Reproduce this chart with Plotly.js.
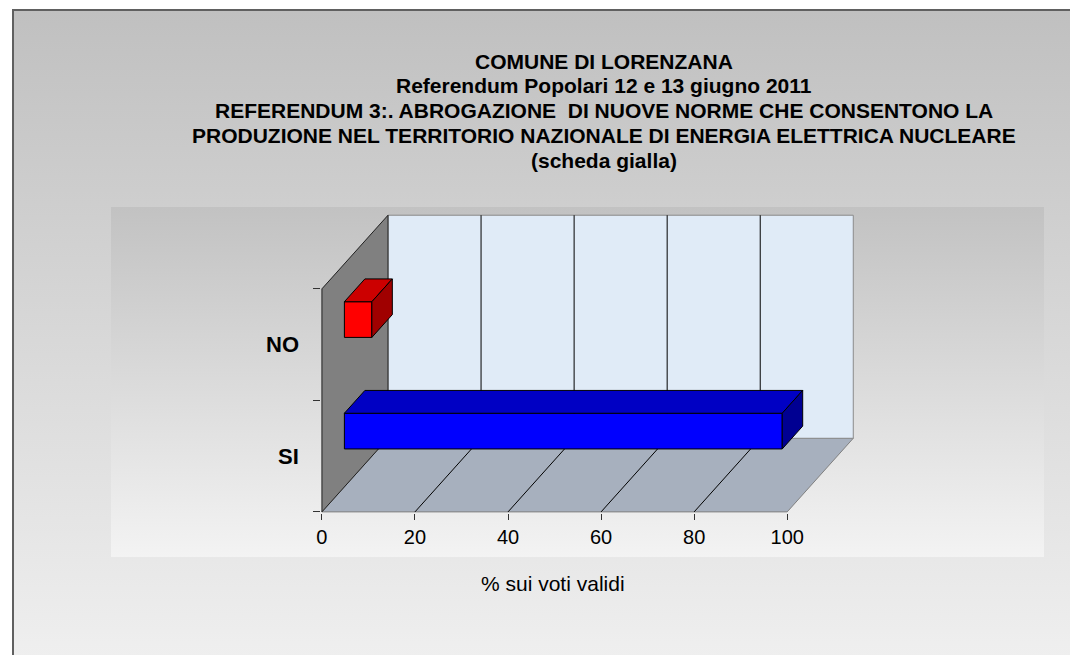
<!DOCTYPE html>
<html>
<head>
<meta charset="utf-8">
<script src="https://cdn.plot.ly/plotly-3.0.1.min.js"></script>
<style>
  html, body { margin:0; padding:0; background:#ffffff; width:1070px; height:655px; overflow:hidden; }
  #frame { position:absolute; left:12px; top:9px; width:1070px; height:660px;
           border-left:2px solid #606060; border-top:2px solid #606060;
           background:linear-gradient(to bottom, #c0c0c0 0%, #f0f0f0 100%); }
  #inner { position:absolute; left:111px; top:207px; width:933px; height:350px;
           background:linear-gradient(to bottom, #c2c2c2 0%, #f3f3f3 100%); }
  #chart { position:absolute; left:0; top:0; width:1070px; height:655px; }
</style>
</head>
<body>
<div id="frame"></div>
<div id="inner"></div>
<div id="chart"></div>
<script>
// ---- data ----
const categories = ['SI', 'NO'];
const values = [94.1, 5.9];
const barColors = ['#0000ff', '#ff0000'];
const barTopColors = ['#0000c4', '#cc0000'];
const barSideColors = ['#000092', '#a00000'];
const xTickVals = [0, 20, 40, 60, 80, 100];
const xTickText = ['0', '20', '40', '60', '80', '100'];
const titleLines = [
  'COMUNE DI LORENZANA',
  'Referendum Popolari 12 e 13 giugno 2011',
  'REFERENDUM 3:. ABROGAZIONE  DI NUOVE NORME CHE CONSENTONO LA',
  'PRODUZIONE NEL TERRITORIO NAZIONALE DI ENERGIA ELETTRICA NUCLEARE',
  '(scheda gialla)'
];
const xAxisTitle = '% sui voti validi';

// ---- 3D projection parameters ----
const XMAX = 100;           // value axis max
const DX = 14.2;            // depth offset in x units
const DY = 0.66;            // depth offset in y units
const NCAT = categories.length;
const F0 = 0.34;            // depth position of bar front face
const BD = 0.31;            // bar depth fraction
const BH = 0.32;            // bar thickness (category units)

// plot-area geometry (pixels) used to place the title lines
const M = {l:321, r:213, t:213, b:142};
const PW = 1070 - M.l - M.r, PH = 655 - M.t - M.b;
const TITLE_CX = 604, TITLE_Y0 = 61, TITLE_DY = 24.8;

function poly(pts) {
  return 'M' + pts.map(p => p[0] + ',' + p[1]).join('L') + 'Z';
}

const shapes = [];
// floor
shapes.push({type:'path', layer:'below', xref:'x', yref:'y',
  path: poly([[0,0],[XMAX,0],[XMAX+DX,DY],[DX,DY]]),
  fillcolor:'#a7b0be', line:{color:'#808080', width:1}});
// back wall
shapes.push({type:'path', layer:'below', xref:'x', yref:'y',
  path: poly([[DX,DY],[DX,NCAT+DY],[XMAX+DX,NCAT+DY],[XMAX+DX,DY]]),
  fillcolor:'#e0ebf7', line:{color:'#8a8a8a', width:1}});
// left wall
shapes.push({type:'path', layer:'below', xref:'x', yref:'y',
  path: poly([[0,0],[0,NCAT],[DX,NCAT+DY],[DX,DY]]),
  fillcolor:'#808080', line:{color:'#202020', width:1}});
// grid lines
xTickVals.forEach(v => {
  if (v === 0 || v === XMAX) return;
  shapes.push({type:'line', layer:'below', xref:'x', yref:'y',
    x0:v+DX, y0:DY, x1:v+DX, y1:NCAT+DY, line:{color:'#000000', width:1}});
  shapes.push({type:'line', layer:'below', xref:'x', yref:'y',
    x0:v, y0:0, x1:v+DX, y1:DY, line:{color:'#000000', width:1}});
});
// bar top and side faces
categories.forEach((c, i) => {
  const yc = i + 0.5 + F0*DY;
  const x0 = F0*DX, x1 = F0*DX + values[i];
  const yb = yc - BH/2, yt = yc + BH/2;
  const ddx = BD*DX, ddy = BD*DY;
  shapes.push({type:'path', layer:'above', xref:'x', yref:'y',
    path: poly([[x0,yt],[x1,yt],[x1+ddx,yt+ddy],[x0+ddx,yt+ddy]]),
    fillcolor: barTopColors[i], line:{color:'#000000', width:1}});
  shapes.push({type:'path', layer:'above', xref:'x', yref:'y',
    path: poly([[x1,yb],[x1,yt],[x1+ddx,yt+ddy],[x1+ddx,yb+ddy]]),
    fillcolor: barSideColors[i], line:{color:'#000000', width:1}});
});

const trace = {
  type:'bar', orientation:'h',
  x: values,
  y: categories.map((c, i) => i + 0.5 + F0*DY),
  base: values.map(() => F0*DX),
  width: BH,
  marker: {color: barColors, line:{color:'#000000', width:1}},
  hoverinfo:'skip', showlegend:false
};

const FONT = 'Liberation Sans, Arial, sans-serif';
const annotations = categories.map((c, i) => ({
  text: c, xref:'paper', x:0, xanchor:'right', xshift:-20,
  yref:'y', y:i + 0.5, yanchor:'middle', showarrow:false,
  font:{family:FONT, size:22, color:'#000', weight:'bold'}
}));
annotations.push({
  text: xAxisTitle, xref:'x', x:49.6, xanchor:'center',
  yref:'paper', y:0, yanchor:'middle', yshift:-70, showarrow:false,
  font:{family:FONT, size:21, color:'#000'}
});
// chart title, one annotation per line
titleLines.forEach((t, k) => {
  const ypx = TITLE_Y0 + k*TITLE_DY;
  annotations.push({
    text: t, xref:'paper', x:(TITLE_CX - M.l)/PW, xanchor:'center',
    yref:'paper', y:(655 - M.b - ypx)/PH, yanchor:'middle', showarrow:false,
    font:{family:FONT, size:21, color:'#000', weight:'bold'}
  });
});

const layout = {
  width:1070, height:655,
  paper_bgcolor:'rgba(0,0,0,0)', plot_bgcolor:'rgba(0,0,0,0)',
  margin:{l:M.l, r:M.r, t:M.t, b:M.b, pad:0},
  xaxis:{range:[-0.2, 115], tickvals:xTickVals, ticktext:xTickText,
    ticks:'outside', ticklen:6, tickcolor:'#333', showgrid:false, zeroline:false, showline:false,
    tickfont:{family:FONT, size:20, color:'#000'}, fixedrange:true},
  yaxis:{range:[-0.01, 2.68], tickvals:[0,1,2], ticktext:['','',''],
    ticks:'outside', ticklen:7, tickcolor:'#333', showgrid:false, zeroline:false, showline:false, fixedrange:true},
  shapes: shapes,
  annotations: annotations,
  showlegend:false
};

Plotly.newPlot('chart', [trace], layout, {displayModeBar:false, staticPlot:true});
</script>
</body>
</html>
